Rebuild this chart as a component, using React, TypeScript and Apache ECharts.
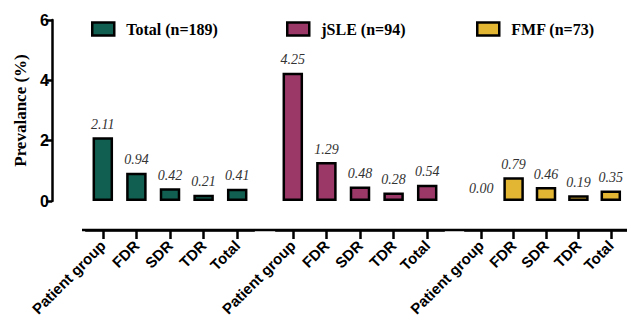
import React, { useEffect, useRef } from "react";
import * as echarts from "echarts";

const categories = ["Patient group", "FDR", "SDR", "TDR", "Total"];
const groupNames = ["Total (n=189)", "jSLE (n=94)", "FMF (n=73)"];
const totalValues = [2.11, 0.94, 0.42, 0.21, 0.41];
const jsleValues = [4.25, 1.29, 0.48, 0.28, 0.54];
const fmfValues = [0.0, 0.79, 0.46, 0.19, 0.35];
const groupColors = ["#115f50", "#9b3868", "#e2b532"];
const yTicks = [0, 2, 4, 6];

const seriesValues = [totalValues, jsleValues, fmfValues];

const SERIF = "'Liberation Serif', 'Times New Roman', serif";
const SANS = "'Liberation Sans', Arial, sans-serif";

export default function App() {
  const ref = useRef<HTMLDivElement>(null);
  useEffect(() => {
    document.body.style.margin = "0";
    if (!ref.current) return;
    const chart = echarts.init(ref.current, null, { renderer: "svg" });
    const gridLefts = [86, 276, 465];
    const slot = 33.6;
    const grids = gridLefts.map((l) => ({ left: l, width: slot * 5, top: 20, bottom: 119 }));
    const xAxes = gridLefts.map((_, i) => ({
      type: "category",
      gridIndex: i,
      data: categories,
      position: "bottom",
      offset: 29,
      axisLine: { show: true, onZero: false, lineStyle: { color: "#000", width: 2.5 } },
      axisTick: { show: true, alignWithLabel: true, length: 9, lineStyle: { color: "#000", width: 2.5 } },
      axisLabel: {
        rotate: 45,
        interval: 0,
        margin: 13,
        color: "#000",
        fontFamily: SANS,
        fontWeight: "bold",
        fontSize: 15,
      },
    }));
    const yAxes = gridLefts.map((_, i) => ({
      type: "value",
      gridIndex: i,
      min: yTicks[0],
      max: yTicks[yTicks.length - 1],
      interval: 2,
      show: i === 0,
      offset: 34,
      name: i === 0 ? "Prevalance (%)" : "",
      nameLocation: "middle",
      nameGap: 23,
      nameTextStyle: { fontFamily: SERIF, fontWeight: "bold", fontSize: 17, color: "#000" },
      splitLine: { show: false },
      axisLine: { show: true, lineStyle: { color: "#000", width: 2.5 } },
      axisTick: { show: true, length: 6, lineStyle: { color: "#000", width: 2.5 } },
      axisLabel: { color: "#000", fontFamily: SANS, fontWeight: "bold", fontSize: 16, margin: 3 },
    }));
    const series = seriesValues.map((vals, i) => ({
      type: "bar",
      name: groupNames[i],
      xAxisIndex: i,
      yAxisIndex: i,
      data: vals.map((v) => (v === 0 ? { value: v, itemStyle: { borderWidth: 0 } } : v)),
      barWidth: 20.5,
      itemStyle: { color: groupColors[i], borderColor: "#000", borderWidth: 2.5 },
      label: {
        show: true,
        position: "top",
        distance: 6,
        formatter: (p: any) => Number(p.value).toFixed(2),
        fontFamily: SERIF,
        fontStyle: "italic",
        fontSize: 14,
        color: "#333",
      },
    }));
    const legendLefts = [86, 281, 471];
    const legends = groupNames.map((n, i) => ({
      data: [n],
      left: legendLefts[i],
      top: 16,
      icon: "rect",
      itemWidth: 22,
      itemHeight: 13,
      itemStyle: { borderColor: "#000", borderWidth: 2.5 },
      textStyle: {
        fontFamily: SERIF,
        fontWeight: "bold",
        fontSize: 16,
        color: "#000",
        padding: [0, 0, 0, 7],
      },
      selectedMode: false,
    }));
    chart.setOption({
      animation: false,
      grid: grids,
      xAxis: xAxes,
      yAxis: yAxes,
      legend: legends,
      series,
      graphic: [
        {
          type: "line",
          z: 100,
          shape: { x1: 82, y1: 230, x2: 627, y2: 230 },
          style: { stroke: "#000", lineWidth: 2.5 },
        },
      ],
    });
    return () => chart.dispose();
  }, []);
  return <div ref={ref} style={{ width: 627, height: 320 }} />;
}
